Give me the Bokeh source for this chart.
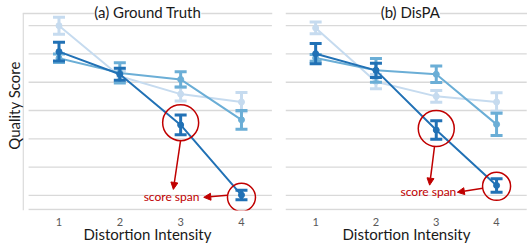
from bokeh.plotting import figure
from bokeh.layouts import row
from bokeh.models import Range1d, FixedTicker, Label, Arrow, NormalHead, Span
from bokeh.embed import file_html
from bokeh.resources import INLINE

# ---- data ----
intensity = [1, 2, 3, 4]
x_labels = ["1", "2", "3", "4"]

gt_dark = [6.08, 5.28, 3.49, 1.01]
gt_dark_err = [0.33, 0.21, 0.35, 0.17]
gt_mid = [5.85, 5.33, 5.10, 3.67]
gt_mid_err = [0.15, 0.36, 0.27, 0.33]
gt_light = [7.00, 5.21, 4.58, 4.30]
gt_light_err = [0.30, 0.20, 0.24, 0.34]

dp_dark = [6.01, 5.42, 3.31, 1.35]
dp_dark_err = [0.36, 0.25, 0.33, 0.24]
dp_mid = [5.86, 5.42, 5.28, 3.51]
dp_mid_err = [0.12, 0.42, 0.29, 0.39]
dp_light = [6.92, 5.02, 4.50, 4.30]
dp_light_err = [0.21, 0.25, 0.21, 0.33]

grid_values = [0.5, 1, 2, 3, 4, 5, 6, 7]

# ---- styles ----
FONT = "Lato"
LIGHT = "#c6dbef"
MID = "#6baed6"
DARK = "#2171b5"
RED = "#c00000"
GRID = "#d9d9d9"
TEXT = "#1a1a1a"
Y_TOP = 7.43
Y_MIN, Y_MAX = 0.464, 7.89


def add_series(p, vals, errs, color):
    lo = [v - e for v, e in zip(vals, errs)]
    hi = [v + e for v, e in zip(vals, errs)]
    p.line(intensity, vals, line_color=color, line_width=2)
    p.segment(x0=intensity, y0=lo, x1=intensity, y1=hi, line_color=color, line_width=3)
    p.scatter(intensity, hi, marker="dash", size=12, line_color=color, line_width=3)
    p.scatter(intensity, lo, marker="dash", size=12, line_color=color, line_width=3)
    p.scatter(intensity, vals, marker="circle", size=6, fill_color=color, line_color=color)


def make_panel(title, title_x, series, dark, ann, first, width, x_start, x_end):
    p = figure(width=width, height=245, output_backend="svg", toolbar_location=None,
               x_range=Range1d(x_start, x_end), y_range=Range1d(Y_MIN, Y_MAX),
               y_axis_location="left" if first else None,
               min_border_left=22 if first else 0, min_border_right=13 if first else 0,
               min_border_top=0, min_border_bottom=0)
    p.outline_line_color = None
    p.xgrid.visible = False
    p.ygrid.visible = False

    # grid lines and chart border lines
    n = len(grid_values)
    p.segment(x0=[0.5] * n, y0=grid_values, x1=[4.5] * n, y1=grid_values,
              line_color=GRID, line_width=1.3)
    p.add_layout(Span(location=Y_TOP, dimension="width", line_color=GRID, line_width=1.3))
    if first:
        p.segment(x0=[x_start + 0.01], y0=[Y_MIN], x1=[x_start + 0.01], y1=[Y_TOP],
                  line_color="#d0d0d0", line_width=1.2)

    # x axis
    xa = p.xaxis[0]
    xa.ticker = FixedTicker(ticks=intensity)
    xa.major_label_overrides = {i: l for i, l in zip(intensity, x_labels)}
    xa.axis_line_color = None
    xa.major_tick_line_color = None
    xa.minor_tick_line_color = None
    xa.major_tick_out = 0
    xa.major_tick_in = 0
    xa.major_label_text_font = FONT
    xa.major_label_text_font_size = "11px"
    xa.major_label_text_color = "#595959"
    xa.major_label_standoff = 7
    xa.axis_label = "Distortion Intensity"
    xa.axis_label_text_font = FONT
    xa.axis_label_text_font_size = "15px"
    xa.axis_label_text_font_style = "normal"
    xa.axis_label_text_color = TEXT
    xa.axis_label_standoff = -4

    if first:
        ya = p.yaxis[0]
        ya.ticker = FixedTicker(ticks=[])
        ya.axis_line_color = None
        ya.major_tick_line_color = None
        ya.minor_tick_line_color = None
        ya.major_tick_out = 0
        ya.major_tick_in = 0
        ya.major_label_standoff = 0
        ya.axis_label = "Quality Score"
        ya.axis_label_text_font = FONT
        ya.axis_label_text_font_size = "15px"
        ya.axis_label_text_font_style = "normal"
        ya.axis_label_text_color = TEXT
        ya.axis_label_standoff = 0

    for vals, errs, color in series:
        add_series(p, vals, errs, color)

    # panel title
    p.add_layout(Label(x=title_x, y=7.5, text=title, text_font=FONT, text_font_size="15px",
                       text_color=TEXT, text_align="center", text_baseline="middle",
                       background_fill_color="white"))

    # annotations: circles around dark series at intensity 3 and 4
    (c1dy, c1s), (c2dy, c2s), a1, a2, txt = ann
    p.scatter([intensity[2]], [dark[2] + c1dy], marker="circle", size=c1s,
              fill_color=None, line_color=RED, line_width=1.5)
    p.scatter([intensity[3]], [dark[3] + c2dy], marker="circle", size=c2s,
              fill_color=None, line_color=RED, line_width=1.5)
    for (xs, ys, xe, ye) in (a1, a2):
        p.add_layout(Arrow(x_start=xs, y_start=ys, x_end=xe, y_end=ye,
                           line_color=RED, line_width=1.5,
                           end=NormalHead(size=7, fill_color=RED, line_color=RED)))
    p.add_layout(Label(x=txt[0], y=txt[1], text="score span", text_font=FONT,
                       text_font_size="12px", text_color=RED, text_align="center",
                       text_baseline="middle"))
    return p


ann_gt = ((0.08, 36), (-0.08, 28),
          (3.0, 2.96, 2.88, 1.21), (3.77, 1.0, 3.38, 0.93), (2.85, 0.96))
ann_dp = ((0.05, 36), (-0.03, 28),
          (2.97, 2.71, 2.89, 1.36), (3.77, 1.25, 3.35, 1.11), (2.87, 1.14))

p1 = make_panel("(a) Ground Truth", 2.46,
                [(gt_light, gt_light_err, LIGHT), (gt_mid, gt_mid_err, MID), (gt_dark, gt_dark_err, DARK)],
                gt_dark, ann_gt, True, 285, 0.4, 4.51)
p2 = make_panel("(b) DisPA", 2.57,
                [(dp_light, dp_light_err, LIGHT), (dp_mid, dp_mid_err, MID), (dp_dark, dp_dark_err, DARK)],
                dp_dark, ann_dp, False, 242, 0.5, 4.513)

layout = row(p1, p2)
open("out.html", "w").write(file_html(layout, INLINE))
